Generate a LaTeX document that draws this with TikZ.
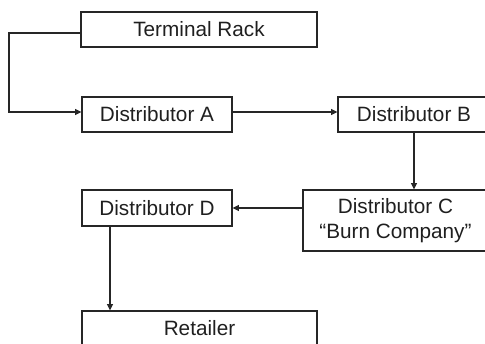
\documentclass[tikz,border=0pt]{standalone}
\usepackage{fontspec}
\setmainfont{Liberation Sans}
\usetikzlibrary{positioning,arrows.meta,calc}

\begin{document}
\begin{tikzpicture}[x=0.02cm,y=-0.02cm,
    box/.style={draw=black!85, line width=0.7pt, minimum height=0.7cm, inner sep=0pt,
        text=black!88, font=\fontsize{11.8}{14}\selectfont, align=center},
    flow/.style={draw=black!85, line width=0.7pt, -{Triangle[length=3.6pt,width=3.4pt]}}]
\useasboundingbox (0,0) rectangle (485,343);
\clip (0,0) rectangle (485,343);

% Boxes
\node[box, minimum width=4.72cm] (rack) at (199,29.5) {Terminal Rack};
\node[box, minimum width=3cm] (distA) at (157,114.5) {Distributor A};
\node[box, minimum width=3.04cm] (distB) at (414,114.5) {Distributor B};
\node[box, minimum width=3.7cm, minimum height=1.22cm] (distC) at (395.5,220.5) {Distributor C\\“Burn Company”};
\node[box, minimum width=3cm, minimum height=0.72cm] (distD) at (157,208) {Distributor D};
\node[box, minimum width=4.7cm] (retail) at (199.5,328.5) {Retailer};

% Connectors
\coordinate (bend) at (9,0);
\coordinate (inA) at ([yshift=0.05cm]distA.west);
\draw[flow] ([yshift=-0.07cm]rack.west) -| (bend |- inA) -- (inA);
\draw[flow] ([yshift=0.05cm]distA.east) -- ([yshift=0.05cm]distB.west);
\draw[flow] (distB.south) -- (distB.south |- distC.north);
\draw[flow] (distC.west |- distD.east) -- (distD.east);
\draw[flow] ([xshift=-0.94cm]distD.south) -- ([xshift=-0.94cm]distD.south |- retail.north);
\end{tikzpicture}
\end{document}
